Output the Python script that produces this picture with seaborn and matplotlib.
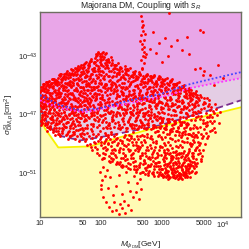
import numpy as np
import pandas as pd
import seaborn as sns
import matplotlib
matplotlib.use('Agg')
from matplotlib import pyplot as plt
from matplotlib.ticker import FixedLocator, NullFormatter

# limit curves: log10(M / GeV) and log10(sigma / cm^2)
blue_logm = [1.0, 1.33, 1.66, 1.98, 2.48, 2.97, 3.46, 3.87, 4.30]
blue_logs = [-45.68, -46.37, -46.71, -46.58, -46.03, -45.62, -44.93, -44.52, -44.11]

magenta_logm = [1.0, 1.33, 1.74, 2.15, 2.64, 3.13, 3.46, 3.87, 4.30]
magenta_logs = [-46.03, -46.58, -46.85, -46.51, -46.10, -45.68, -45.21, -44.86, -44.52]

dashed_logm = [1.0, 1.16, 1.36, 1.66, 1.98, 2.48, 2.97, 3.46, 3.95, 4.30]
dashed_logs = [-46.58, -47.88, -48.49, -48.77, -48.56, -48.15, -47.74, -47.12, -46.51, -46.03]

floor_logm = [1.0, 1.08, 1.16, 1.30, 1.82, 2.31, 2.92, 3.57, 4.30]
floor_logs = [-47.05, -47.95, -48.42, -49.25, -49.18, -48.56, -47.88, -47.26, -46.51]

# scan points (log10 M, log10 sigma)
left_cloud = [
    (1.01,-45.1),(1.02,-46.4),(1.04,-45.7),(1.03,-47.3),(1.06,-44.9),(1.05,-46.0),(1.08,-46.8),(1.07,-45.4),(1.09,-47.6),
    (1.02,-45.9),(1.04,-47.0),(1.06,-46.5),(1.01,-47.7),(1.08,-45.2),(1.03,-46.2),(1.09,-46.1),(1.05,-44.9),(1.07,-47.4),
    (1.10,-45.8),(1.12,-44.8),(1.11,-47.1),(1.14,-46.3),(1.13,-45.3),(1.16,-47.8),(1.15,-44.7),(1.18,-46.0),(1.17,-46.9),
    (1.19,-45.5),(1.12,-48.1),(1.14,-45.0),(1.16,-46.6),(1.13,-47.5),(1.18,-44.9),(1.11,-46.1),(1.19,-47.3),(1.15,-45.9),
    (1.17,-48.0),(1.10,-44.8),
    (1.21,-46.9),(1.20,-44.6),(1.23,-45.4),(1.22,-48.2),(1.25,-46.1),(1.24,-44.9),(1.27,-47.4),(1.26,-45.7),(1.29,-44.5),
    (1.28,-46.5),(1.21,-45.2),(1.23,-47.9),(1.25,-44.7),(1.27,-45.9),(1.29,-47.0),(1.22,-46.4),(1.24,-48.4),(1.26,-47.6),
    (1.28,-45.0),(1.20,-47.2),
    (1.30,-45.6),(1.32,-44.3),(1.31,-47.6),(1.34,-46.2),(1.33,-48.5),(1.36,-45.0),(1.35,-46.9),(1.38,-44.5),(1.37,-48.0),
    (1.39,-45.8),(1.32,-46.7),(1.34,-44.8),(1.36,-47.3),(1.31,-45.2),(1.38,-46.4),(1.33,-44.2),(1.39,-47.8),(1.35,-45.5),
    (1.37,-46.0),(1.30,-48.3),
    (1.41,-44.6),(1.40,-46.8),(1.43,-45.1),(1.42,-48.4),(1.45,-44.0),(1.44,-47.5),(1.47,-45.9),(1.46,-44.3),(1.49,-46.5),
    (1.48,-48.1),(1.41,-45.6),(1.43,-47.1),(1.45,-46.2),(1.47,-44.8),(1.49,-47.8),(1.42,-44.2),(1.44,-45.4),(1.46,-48.7),
    (1.48,-45.0),(1.40,-47.3),
    (1.50,-44.9),(1.52,-46.6),(1.51,-43.9),(1.54,-48.2),(1.53,-45.5),(1.56,-47.0),(1.55,-44.3),(1.58,-46.0),(1.57,-48.7),
    (1.59,-45.2),(1.52,-47.6),(1.54,-44.6),(1.56,-45.8),(1.51,-46.3),(1.58,-43.8),(1.53,-48.4),(1.59,-47.3),(1.55,-46.9),
    (1.57,-44.1),(1.50,-47.9),(1.54,-45.0),(1.58,-47.8),
    (1.61,-45.3),(1.60,-43.8),(1.63,-47.2),(1.62,-44.5),(1.65,-46.0),(1.64,-48.8),(1.67,-44.1),(1.66,-45.7),(1.69,-47.9),
    (1.68,-43.6),(1.61,-46.6),(1.63,-45.0),(1.65,-48.3),(1.67,-46.9),(1.69,-44.8),(1.62,-47.7),(1.64,-43.9),(1.66,-46.3),
    (1.68,-45.4),(1.60,-48.5),(1.65,-44.4),(1.69,-47.0),
    (1.70,-44.0),(1.72,-46.1),(1.71,-48.6),(1.74,-43.5),(1.73,-45.3),(1.76,-47.4),(1.75,-44.7),(1.78,-49.1),(1.77,-46.5),
    (1.79,-43.8),(1.72,-45.8),(1.74,-47.9),(1.76,-44.3),(1.71,-46.9),(1.78,-45.0),(1.73,-48.3),(1.79,-46.2),(1.75,-43.4),
    (1.77,-47.7),(1.70,-45.5),(1.74,-48.8),(1.76,-45.9),(1.78,-44.4),(1.72,-47.1),
    (1.81,-43.6),(1.80,-45.9),(1.83,-48.0),(1.82,-44.4),(1.85,-46.7),(1.84,-43.2),(1.87,-45.1),(1.86,-49.4),(1.89,-47.3),
    (1.88,-44.0),(1.81,-46.3),(1.83,-44.8),(1.85,-48.6),(1.87,-47.8),(1.89,-45.6),(1.82,-49.0),(1.84,-46.0),(1.86,-43.9),
    (1.88,-47.0),(1.80,-44.6),(1.85,-45.3),(1.87,-48.3),(1.89,-43.5),(1.83,-46.9),
    (1.90,-44.7),(1.92,-42.9),(1.91,-47.4),(1.94,-45.6),(1.93,-43.3),(1.96,-48.8),(1.95,-46.3),(1.98,-43.0),(1.97,-44.2),
    (1.99,-47.0),(1.92,-45.1),(1.94,-49.6),(1.96,-43.7),(1.91,-46.0),(1.98,-48.1),(1.93,-44.5),(1.99,-45.9),(1.95,-42.8),
    (1.97,-47.7),(1.90,-49.2),(1.94,-46.8),(1.96,-45.3),(1.98,-44.0),(1.92,-48.5),(1.95,-43.9),(1.97,-49.8),(1.93,-46.6),
    (1.99,-43.4),
]

left_fill = [
    (1.00,-45.45),(1.05,-47.05),(1.02,-46.15),(1.07,-44.95),(1.04,-47.55),(1.09,-45.65),(1.01,-46.75),(1.06,-45.25),
    (1.03,-46.55),(1.08,-47.25),(1.00,-46.35),(1.05,-45.75),(1.02,-47.45),(1.07,-46.25),(1.04,-45.35),(1.09,-46.95),
    (1.10,-46.45),(1.15,-45.15),(1.12,-47.65),(1.17,-45.55),(1.14,-46.75),(1.19,-44.85),(1.11,-45.45),(1.16,-47.25),
    (1.13,-46.05),(1.18,-47.55),(1.10,-45.05),(1.15,-46.25),(1.12,-44.95),(1.17,-46.65),(1.14,-47.95),(1.19,-46.15),
    (1.11,-47.85),(1.16,-45.65),
    (1.20,-45.85),(1.25,-47.75),(1.22,-45.05),(1.27,-46.25),(1.24,-47.05),(1.29,-45.35),(1.21,-48.05),(1.26,-44.65),
    (1.23,-46.65),(1.28,-47.65),(1.20,-46.35),(1.25,-45.45),(1.22,-47.35),(1.27,-44.85),(1.24,-46.05),(1.29,-48.15),
    (1.21,-44.55),(1.26,-46.85),
    (1.30,-44.75),(1.35,-46.15),(1.32,-47.95),(1.37,-45.35),(1.34,-47.45),(1.39,-44.35),(1.31,-46.45),(1.36,-48.25),
    (1.33,-45.75),(1.38,-47.15),(1.30,-46.95),(1.35,-44.55),(1.32,-45.45),(1.37,-46.65),(1.34,-44.25),(1.39,-46.85),
    (1.31,-48.35),(1.36,-45.95),
    (1.40,-45.15),(1.45,-47.25),(1.42,-46.45),(1.47,-44.15),(1.44,-48.35),(1.49,-45.55),(1.41,-47.85),(1.46,-46.05),
    (1.43,-44.45),(1.48,-46.95),(1.40,-44.25),(1.45,-45.75),(1.42,-47.55),(1.47,-47.05),(1.44,-44.85),(1.49,-48.45),
    (1.41,-46.25),(1.46,-45.35),
    (1.50,-44.45),(1.55,-45.65),(1.52,-47.25),(1.57,-46.45),(1.54,-43.95),(1.59,-48.05),(1.51,-45.15),(1.56,-44.25),
    (1.53,-46.75),(1.58,-45.35),(1.50,-48.45),(1.55,-47.45),(1.52,-44.15),(1.57,-45.85),(1.54,-46.55),(1.59,-44.55),
    (1.51,-47.75),(1.56,-48.35),(1.53,-44.75),(1.58,-46.85),
    (1.60,-44.25),(1.65,-45.45),(1.62,-46.95),(1.67,-48.45),(1.64,-44.65),(1.69,-46.15),(1.61,-47.45),(1.66,-43.75),
    (1.63,-45.85),(1.68,-47.25),(1.60,-46.05),(1.65,-47.75),(1.62,-43.95),(1.67,-45.15),(1.64,-46.45),(1.69,-48.25),
    (1.61,-44.85),(1.66,-46.75),(1.63,-48.05),(1.68,-44.55),
    (1.70,-43.65),(1.75,-45.05),(1.72,-46.65),(1.77,-48.25),(1.74,-44.45),(1.79,-47.15),(1.71,-45.15),(1.76,-43.95),
    (1.73,-47.45),(1.78,-45.65),(1.70,-46.85),(1.75,-48.65),(1.72,-44.15),(1.77,-45.35),(1.74,-46.35),(1.79,-44.85),
    (1.71,-48.05),(1.76,-47.05),(1.73,-43.75),(1.78,-46.05),
    (1.80,-43.45),(1.85,-44.25),(1.82,-45.55),(1.87,-46.35),(1.84,-47.65),(1.89,-48.85),(1.81,-44.95),(1.86,-45.75),
    (1.83,-43.35),(1.88,-46.85),(1.80,-47.25),(1.85,-48.15),(1.82,-46.45),(1.87,-44.55),(1.84,-45.15),(1.89,-43.85),
    (1.81,-48.45),(1.86,-47.05),(1.83,-49.25),(1.88,-45.25),
    (1.90,-43.15),(1.95,-44.45),(1.92,-45.85),(1.97,-46.55),(1.94,-47.85),(1.99,-48.65),(1.91,-44.05),(1.96,-45.05),
    (1.93,-47.15),(1.98,-46.15),(1.90,-45.55),(1.95,-48.35),(1.92,-43.65),(1.97,-44.85),(1.94,-49.35),(1.99,-44.65),
    (1.91,-48.95),(1.96,-47.45),(1.93,-42.95),(1.98,-45.35),
]

left_dense = [
    (1.015,-45.32),(1.045,-46.58),(1.075,-45.88),(1.025,-47.18),(1.055,-45.02),(1.085,-46.28),(1.035,-47.58),(1.065,-46.82),
    (1.005,-46.02),(1.095,-45.48),(1.015,-47.42),(1.045,-45.18),(1.075,-47.02),(1.025,-45.72),(1.055,-46.42),(1.085,-47.72),
    (1.105,-45.28),(1.135,-46.88),(1.165,-45.02),(1.195,-47.12),(1.125,-44.78),(1.155,-46.42),(1.185,-45.72),(1.115,-47.62),
    (1.145,-45.52),(1.175,-47.32),(1.105,-46.62),(1.135,-44.98),(1.165,-47.88),(1.195,-46.22),(1.125,-46.02),(1.155,-47.82),
    (1.185,-44.82),(1.115,-45.92),
    (1.205,-45.12),(1.235,-46.72),(1.265,-44.82),(1.295,-46.92),(1.225,-44.58),(1.255,-46.32),(1.285,-45.52),(1.215,-47.52),
    (1.245,-45.32),(1.275,-47.22),(1.205,-46.52),(1.235,-44.78),(1.265,-47.92),(1.295,-45.82),(1.225,-45.92),(1.255,-48.12),
    (1.285,-44.68),(1.215,-46.12),
    (1.305,-44.92),(1.335,-46.52),(1.365,-44.62),(1.395,-46.22),(1.325,-44.38),(1.355,-46.12),(1.385,-45.22),(1.315,-47.42),
    (1.345,-45.02),(1.375,-47.62),(1.305,-46.22),(1.335,-47.12),(1.365,-48.12),(1.395,-45.02),(1.325,-45.62),(1.355,-47.92),
    (1.385,-44.42),(1.315,-45.82),
    (1.405,-44.82),(1.435,-46.22),(1.465,-44.52),(1.495,-45.92),(1.425,-44.18),(1.455,-45.62),(1.485,-47.32),(1.415,-47.02),
    (1.445,-44.92),(1.475,-46.62),(1.405,-45.92),(1.435,-47.82),(1.465,-48.22),(1.495,-44.72),(1.425,-46.62),(1.455,-47.52),
    (1.485,-44.32),(1.415,-45.32),
    (1.505,-44.22),(1.535,-45.92),(1.565,-44.62),(1.595,-46.02),(1.525,-43.98),(1.555,-45.32),(1.585,-47.02),(1.515,-46.92),
    (1.545,-44.82),(1.575,-46.72),(1.505,-45.62),(1.535,-47.92),(1.565,-48.22),(1.595,-44.32),(1.525,-46.42),(1.555,-47.62),
    (1.585,-43.92),(1.515,-45.02),
    (1.605,-44.02),(1.635,-45.62),(1.665,-44.32),(1.695,-45.72),(1.625,-43.72),(1.655,-45.12),(1.685,-46.82),(1.615,-46.52),
    (1.645,-44.62),(1.675,-46.42),(1.605,-45.42),(1.635,-47.52),(1.665,-48.02),(1.695,-44.22),(1.625,-46.12),(1.655,-47.22),
    (1.685,-43.82),(1.615,-44.92),
    (1.705,-43.82),(1.735,-45.52),(1.765,-44.12),(1.795,-45.32),(1.725,-43.52),(1.755,-44.92),(1.785,-46.62),(1.715,-46.32),
    (1.745,-44.42),(1.775,-46.02),(1.705,-45.22),(1.735,-47.32),(1.765,-47.92),(1.795,-44.02),(1.725,-46.02),(1.755,-47.02),
    (1.785,-43.62),(1.715,-44.72),
    (1.805,-43.72),(1.835,-45.32),(1.865,-44.02),(1.895,-45.12),(1.825,-43.32),(1.855,-44.72),(1.885,-46.52),(1.815,-46.12),
    (1.845,-44.22),(1.875,-45.82),(1.805,-45.02),(1.835,-47.12),(1.865,-47.62),(1.895,-43.82),(1.825,-45.92),(1.855,-46.92),
    (1.885,-43.42),(1.815,-44.52),
    (1.905,-43.42),(1.935,-45.12),(1.965,-43.82),(1.995,-44.92),(1.925,-43.02),(1.955,-44.42),(1.985,-46.32),(1.915,-45.92),
    (1.945,-44.02),(1.975,-45.62),(1.905,-44.82),(1.935,-46.92),(1.965,-47.32),(1.995,-43.62),(1.925,-45.72),(1.955,-46.72),
    (1.985,-43.22),(1.915,-44.32),
]

middle_cloud = [
    (2.01,-43.1),(2.00,-45.4),(2.03,-47.9),(2.02,-42.8),(2.05,-44.6),(2.04,-49.3),(2.07,-46.2),(2.06,-43.5),(2.09,-48.4),
    (2.08,-45.0),(2.01,-47.1),(2.03,-44.1),(2.05,-50.0),(2.07,-42.9),(2.09,-46.7),(2.02,-45.8),(2.04,-43.7),(2.06,-48.8),
    (2.08,-47.5),(2.00,-44.3),(2.05,-46.0),(2.07,-49.7),(2.03,-42.7),(2.09,-44.9),(2.01,-48.9),(2.06,-45.2),(2.08,-43.3),
    (2.04,-47.0),
    (2.10,-43.4),(2.12,-46.5),(2.11,-49.0),(2.14,-44.4),(2.13,-47.7),(2.16,-43.1),(2.15,-45.6),(2.18,-50.2),(2.17,-48.2),
    (2.19,-44.8),(2.12,-43.8),(2.14,-46.9),(2.16,-49.6),(2.11,-45.2),(2.18,-47.3),(2.13,-44.0),(2.19,-46.1),(2.15,-48.7),
    (2.17,-43.6),(2.10,-47.9),(2.14,-45.9),(2.16,-50.0),(2.18,-45.0),(2.12,-48.4),(2.19,-43.3),(2.11,-46.8),
    (2.21,-44.1),(2.20,-47.0),(2.23,-49.4),(2.22,-43.6),(2.25,-45.9),(2.24,-48.3),(2.27,-44.7),(2.26,-50.3),(2.29,-46.4),
    (2.28,-43.5),(2.21,-45.4),(2.23,-47.6),(2.25,-49.9),(2.27,-46.8),(2.29,-44.2),(2.22,-48.8),(2.24,-45.1),(2.26,-43.9),
    (2.28,-47.9),(2.20,-49.6),(2.25,-44.4),(2.27,-48.6),(2.23,-46.2),(2.29,-50.4),(2.21,-43.8),(2.26,-45.6),
    (2.30,-45.0),(2.32,-43.8),(2.31,-48.0),(2.34,-46.6),(2.33,-50.5),(2.36,-44.3),(2.35,-47.3),(2.38,-49.1),(2.37,-45.7),
    (2.39,-43.7),(2.32,-46.1),(2.34,-48.8),(2.36,-50.0),(2.31,-44.6),(2.38,-47.0),(2.33,-45.4),(2.39,-48.4),(2.35,-44.0),
    (2.37,-49.6),(2.30,-47.7),(2.34,-45.2),(2.36,-46.9),(2.38,-44.5),(2.32,-49.3),(2.39,-46.3),(2.35,-50.6),
    (2.41,-46.0),(2.40,-43.9),(2.43,-48.7),(2.42,-45.1),(2.45,-50.3),(2.44,-44.3),(2.47,-47.2),(2.46,-49.5),(2.49,-45.7),
    (2.48,-43.8),(2.41,-48.1),(2.43,-46.4),(2.45,-44.7),(2.47,-50.7),(2.49,-47.8),(2.42,-44.0),(2.44,-49.0),(2.46,-45.4),
    (2.48,-46.8),(2.40,-50.1),(2.45,-47.5),(2.47,-44.9),(2.43,-43.9),(2.49,-49.8),(2.41,-45.9),(2.46,-48.4),
    (2.50,-44.4),(2.52,-47.0),(2.51,-49.7),(2.54,-45.3),(2.53,-48.2),(2.56,-44.0),(2.55,-46.5),(2.58,-50.8),(2.57,-48.9),
    (2.59,-45.0),(2.52,-44.7),(2.54,-47.7),(2.56,-50.2),(2.51,-46.0),(2.58,-47.4),(2.53,-45.6),(2.59,-49.3),(2.55,-44.2),
    (2.57,-46.9),(2.50,-48.6),(2.54,-50.5),(2.56,-45.8),(2.58,-44.5),(2.52,-49.1),(2.59,-46.3),(2.53,-50.0),
    (2.61,-45.2),(2.60,-48.0),(2.63,-44.1),(2.62,-50.6),(2.65,-46.7),(2.64,-49.2),(2.67,-44.6),(2.66,-47.5),(2.69,-50.9),
    (2.68,-45.9),(2.61,-48.7),(2.63,-46.2),(2.65,-44.3),(2.67,-49.8),(2.69,-47.1),(2.62,-45.5),(2.64,-50.3),(2.66,-44.9),
    (2.68,-48.4),(2.60,-46.4),(2.65,-50.0),(2.67,-45.7),(2.63,-47.8),(2.69,-44.4),(2.61,-49.5),(2.66,-46.0),(2.64,-51.0),
    (2.68,-49.1),
    (2.70,-44.5),(2.72,-47.3),(2.71,-50.1),(2.74,-45.6),(2.73,-48.9),(2.76,-44.2),(2.75,-46.8),(2.78,-51.0),(2.77,-49.4),
    (2.79,-45.1),(2.72,-44.8),(2.74,-48.0),(2.76,-50.6),(2.71,-46.2),(2.78,-47.6),(2.73,-45.9),(2.79,-49.9),(2.75,-44.3),
    (2.77,-47.0),(2.70,-48.5),(2.74,-50.8),(2.76,-46.0),(2.78,-44.7),(2.72,-49.6),(2.79,-46.5),(2.73,-50.3),(2.75,-48.3),
    (2.77,-51.1),
    (2.81,-46.1),(2.80,-44.4),(2.83,-49.3),(2.82,-45.4),(2.85,-50.9),(2.84,-44.8),(2.87,-47.7),(2.86,-50.2),(2.89,-45.9),
    (2.88,-44.3),(2.81,-48.6),(2.83,-46.8),(2.85,-45.1),(2.87,-51.2),(2.89,-48.2),(2.82,-44.5),(2.84,-49.7),(2.86,-45.7),
    (2.88,-47.2),(2.80,-50.5),(2.85,-47.9),(2.87,-45.3),(2.83,-44.4),(2.89,-50.0),(2.81,-46.4),(2.86,-48.9),(2.84,-51.0),
    (2.88,-49.4),
    (2.90,-44.8),(2.92,-47.4),(2.91,-50.3),(2.94,-45.7),(2.93,-48.5),(2.96,-44.4),(2.95,-46.9),(2.98,-51.1),(2.97,-49.2),
    (2.99,-45.3),(2.92,-44.9),(2.94,-48.1),(2.96,-50.7),(2.91,-46.3),(2.98,-47.8),(2.93,-45.9),(2.99,-49.8),(2.95,-44.6),
    (2.97,-47.2),(2.90,-48.8),(2.94,-51.2),(2.96,-46.1),(2.98,-45.0),(2.92,-49.6),(2.99,-46.6),(2.93,-50.5),(2.95,-48.4),
    (2.97,-50.9),
]

middle_fill = [
    (2.00,-43.25),(2.05,-44.35),(2.02,-45.65),(2.07,-46.45),(2.04,-47.35),(2.09,-43.65),(2.01,-44.85),(2.06,-46.95),
    (2.03,-45.15),(2.08,-47.85),(2.00,-46.25),(2.05,-43.05),(2.02,-44.05),(2.07,-45.45),
    (2.01,-49.05),(2.06,-48.25),(2.03,-49.65),(2.08,-48.65),(2.04,-49.95),(2.09,-49.45),(2.00,-48.55),(2.05,-48.95),
    (2.07,-49.25),(2.02,-50.05),
    (2.10,-43.75),(2.15,-44.65),(2.12,-45.95),(2.17,-46.75),(2.14,-47.55),(2.19,-43.45),(2.11,-44.35),(2.16,-45.35),
    (2.13,-46.35),(2.18,-47.15),(2.10,-45.65),(2.15,-47.95),(2.12,-43.25),(2.17,-44.95),
    (2.11,-48.55),(2.16,-49.15),(2.13,-49.85),(2.18,-48.85),(2.14,-50.15),(2.19,-49.45),(2.10,-49.35),(2.15,-50.25),
    (2.17,-48.35),(2.12,-48.95),
    (2.20,-44.35),(2.25,-43.65),(2.22,-45.25),(2.27,-46.15),(2.24,-46.95),(2.29,-47.75),(2.21,-44.85),(2.26,-45.75),
    (2.23,-43.85),(2.28,-46.55),(2.20,-47.35),(2.25,-45.05),(2.22,-46.35),(2.27,-44.15),
    (2.21,-48.45),(2.26,-49.05),(2.23,-49.75),(2.28,-48.95),(2.24,-50.35),(2.29,-49.45),(2.20,-50.05),(2.25,-48.65),
    (2.27,-50.25),(2.22,-49.35),
    (2.30,-43.95),(2.35,-44.85),(2.32,-46.25),(2.37,-47.45),(2.34,-45.45),(2.39,-44.15),(2.31,-47.05),(2.36,-45.95),
    (2.33,-44.45),(2.38,-46.65),(2.30,-45.75),(2.35,-47.85),(2.32,-43.75),(2.37,-45.15),
    (2.31,-48.75),(2.36,-49.35),(2.33,-49.95),(2.38,-48.55),(2.34,-50.45),(2.39,-49.85),(2.30,-49.55),(2.35,-48.95),
    (2.37,-50.55),(2.32,-50.25),
    (2.40,-44.55),(2.45,-43.95),(2.42,-45.75),(2.47,-46.55),(2.44,-47.45),(2.49,-44.35),(2.41,-46.85),(2.46,-45.05),
    (2.43,-47.95),(2.48,-45.95),(2.40,-45.25),(2.45,-46.25),(2.42,-44.25),(2.47,-47.65),
    (2.41,-49.15),(2.46,-48.75),(2.43,-50.05),(2.48,-49.45),(2.44,-50.65),(2.49,-48.45),(2.40,-49.75),(2.45,-49.35),
    (2.47,-50.35),(2.42,-50.55),
    (2.50,-44.75),(2.55,-45.55),(2.52,-46.35),(2.57,-47.25),(2.54,-44.15),(2.59,-46.65),(2.51,-47.65),(2.56,-45.05),
    (2.53,-45.85),(2.58,-44.35),(2.50,-46.95),(2.55,-47.95),(2.52,-44.45),(2.57,-46.05),
    (2.51,-48.85),(2.56,-49.45),(2.53,-50.25),(2.58,-49.05),(2.54,-50.75),(2.59,-48.45),(2.50,-49.95),(2.55,-48.65),
    (2.57,-50.55),(2.52,-49.65),
    (2.60,-44.55),(2.65,-45.35),(2.62,-46.85),(2.67,-46.25),(2.64,-47.35),(2.69,-44.75),(2.61,-45.85),(2.66,-47.85),
    (2.63,-44.25),(2.68,-46.65),(2.60,-47.15),(2.65,-44.95),(2.62,-45.65),(2.67,-47.55),
    (2.61,-49.15),(2.66,-48.85),(2.63,-50.45),(2.68,-49.65),(2.64,-49.85),(2.69,-50.35),(2.60,-50.75),(2.65,-48.45),
    (2.67,-50.95),(2.62,-49.35),
    (2.70,-44.85),(2.75,-45.45),(2.72,-46.55),(2.77,-47.35),(2.74,-44.35),(2.79,-46.05),(2.71,-47.75),(2.76,-45.25),
    (2.73,-46.95),(2.78,-44.55),(2.70,-45.95),(2.75,-47.95),(2.72,-45.05),(2.77,-46.75),
    (2.71,-48.75),(2.76,-49.25),(2.73,-50.65),(2.78,-49.95),(2.74,-49.45),(2.79,-50.85),(2.70,-50.15),(2.75,-48.55),
    (2.77,-50.45),(2.72,-51.05),
    (2.80,-45.15),(2.85,-44.45),(2.82,-46.65),(2.87,-46.15),(2.84,-47.45),(2.89,-44.85),(2.81,-45.65),(2.86,-47.85),
    (2.83,-45.95),(2.88,-46.95),(2.80,-47.25),(2.85,-45.45),(2.82,-44.65),(2.87,-44.35),
    (2.81,-49.05),(2.86,-49.55),(2.83,-50.35),(2.88,-50.75),(2.84,-48.65),(2.89,-49.25),(2.80,-50.05),(2.85,-51.05),
    (2.87,-50.55),(2.82,-48.45),
    (2.90,-45.05),(2.95,-45.65),(2.92,-46.35),(2.97,-47.55),(2.94,-44.55),(2.99,-46.15),(2.91,-47.85),(2.96,-45.25),
    (2.93,-46.85),(2.98,-44.75),(2.90,-46.55),(2.95,-47.25),(2.92,-45.45),(2.97,-44.45),
    (2.91,-48.95),(2.96,-49.45),(2.93,-50.25),(2.98,-50.75),(2.94,-49.75),(2.99,-48.55),(2.90,-50.55),(2.95,-51.05),
    (2.97,-49.15),(2.92,-50.95),
]

middle_dense = [
    (2.005,-43.52),(2.035,-44.52),(2.065,-43.82),(2.095,-45.32),(2.025,-45.92),(2.055,-46.72),(2.085,-44.22),(2.015,-47.52),
    (2.045,-45.02),(2.075,-47.22),(2.005,-46.52),(2.035,-43.22),(2.065,-44.92),(2.095,-46.12),
    (2.105,-43.62),(2.135,-44.72),(2.165,-44.02),(2.195,-45.52),(2.125,-46.12),(2.155,-46.92),(2.185,-44.42),(2.115,-47.72),
    (2.145,-45.22),(2.175,-47.42),(2.105,-46.62),(2.135,-43.42),(2.165,-45.12),(2.195,-46.32),
    (2.205,-43.92),(2.235,-44.92),(2.265,-44.22),(2.295,-45.72),(2.225,-46.32),(2.255,-47.12),(2.285,-44.62),(2.215,-47.82),
    (2.245,-45.42),(2.275,-47.52),(2.205,-46.82),(2.235,-43.62),(2.265,-45.32),(2.295,-46.52),
    (2.305,-44.12),(2.335,-45.12),(2.365,-44.42),(2.395,-45.92),(2.325,-46.52),(2.355,-47.22),(2.385,-44.82),(2.315,-47.92),
    (2.345,-45.62),(2.375,-47.62),(2.305,-46.92),(2.335,-43.82),(2.365,-45.52),(2.395,-46.72),
    (2.405,-44.22),(2.435,-45.22),(2.465,-44.52),(2.495,-46.02),(2.425,-46.62),(2.455,-47.32),(2.485,-44.92),(2.415,-47.92),
    (2.445,-45.72),(2.475,-47.72),(2.405,-46.92),(2.435,-43.92),(2.465,-45.62),(2.495,-46.82),
    (2.505,-44.32),(2.535,-45.32),(2.565,-44.62),(2.595,-46.12),(2.525,-46.72),(2.555,-47.42),(2.585,-45.02),(2.515,-47.92),
    (2.545,-45.82),(2.575,-47.72),(2.505,-46.92),(2.535,-44.12),(2.565,-45.72),(2.595,-46.82),
    (2.605,-44.42),(2.635,-45.42),(2.665,-44.72),(2.695,-46.22),(2.625,-46.82),(2.655,-47.52),(2.685,-45.12),(2.615,-47.92),
    (2.645,-45.92),(2.675,-47.72),(2.605,-47.02),(2.635,-44.22),(2.665,-45.82),(2.695,-46.92),
    (2.705,-44.52),(2.735,-45.52),(2.765,-44.82),(2.795,-46.32),(2.725,-46.92),(2.755,-47.62),(2.785,-45.22),(2.715,-47.92),
    (2.745,-46.02),(2.775,-47.72),(2.705,-47.12),(2.735,-44.32),(2.765,-45.92),(2.795,-47.02),
    (2.805,-44.62),(2.835,-45.62),(2.865,-44.92),(2.895,-46.42),(2.825,-47.02),(2.855,-47.72),(2.885,-45.32),(2.815,-48.02),
    (2.845,-46.12),(2.875,-47.82),(2.805,-47.22),(2.835,-44.42),(2.865,-46.02),(2.895,-47.12),
    (2.905,-44.72),(2.935,-45.72),(2.965,-45.02),(2.995,-46.52),(2.925,-47.12),(2.955,-47.82),(2.985,-45.42),(2.915,-48.12),
    (2.945,-46.22),(2.975,-47.92),(2.905,-47.32),(2.935,-44.52),(2.965,-46.12),(2.995,-47.22),
]

right_cloud = [
    (3.01,-46.2),(3.00,-44.6),(3.03,-49.4),(3.02,-45.5),(3.05,-51.0),(3.04,-44.9),(3.07,-47.8),(3.06,-50.4),(3.09,-46.0),
    (3.08,-44.5),(3.01,-48.7),(3.03,-46.9),(3.05,-45.2),(3.07,-51.3),(3.09,-48.3),(3.02,-44.7),(3.04,-49.9),(3.06,-45.8),
    (3.08,-47.3),(3.00,-50.7),(3.05,-48.0),(3.07,-45.4),(3.03,-50.2),(3.09,-50.9),(3.01,-47.5),(3.06,-49.1),(3.04,-51.2),
    (3.08,-49.6),
    (3.10,-44.9),(3.12,-47.5),(3.11,-50.4),(3.14,-45.8),(3.13,-48.6),(3.16,-44.6),(3.15,-47.0),(3.18,-51.2),(3.17,-49.3),
    (3.19,-45.4),(3.12,-45.0),(3.14,-48.2),(3.16,-50.8),(3.11,-46.4),(3.18,-47.9),(3.13,-46.0),(3.19,-49.9),(3.15,-44.7),
    (3.17,-47.3),(3.10,-48.9),(3.14,-51.3),(3.16,-46.2),(3.18,-45.1),(3.12,-49.7),(3.19,-46.7),(3.13,-50.6),(3.15,-50.0),
    (3.17,-51.0),(3.11,-51.4),(3.19,-50.3),
    (3.21,-46.3),(3.20,-44.9),(3.23,-49.5),(3.22,-45.6),(3.25,-51.1),(3.24,-45.0),(3.27,-47.9),(3.26,-50.5),(3.29,-46.1),
    (3.28,-44.8),(3.21,-48.8),(3.23,-47.0),(3.25,-45.3),(3.27,-51.4),(3.29,-48.4),(3.22,-44.9),(3.24,-50.0),(3.26,-45.9),
    (3.28,-47.4),(3.20,-50.8),(3.25,-48.1),(3.27,-45.5),(3.23,-50.3),(3.29,-51.0),(3.21,-47.6),(3.26,-49.2),(3.24,-51.3),
    (3.28,-49.7),(3.22,-50.9),(3.27,-50.6),
    (3.30,-45.3),(3.32,-47.7),(3.31,-50.6),(3.34,-46.0),(3.33,-48.8),(3.36,-45.0),(3.35,-47.2),(3.38,-51.3),(3.37,-49.5),
    (3.39,-45.6),(3.32,-45.2),(3.34,-48.4),(3.36,-51.0),(3.31,-46.6),(3.38,-48.1),(3.33,-46.2),(3.39,-50.1),(3.35,-45.1),
    (3.37,-47.5),(3.30,-49.1),(3.34,-51.4),(3.36,-46.4),(3.38,-45.4),(3.32,-49.9),(3.39,-46.9),(3.33,-50.8),(3.35,-50.3),
    (3.37,-51.1),
    (3.41,-46.5),(3.40,-45.3),(3.43,-49.6),(3.42,-45.9),(3.45,-51.0),(3.44,-45.2),(3.47,-48.0),(3.46,-50.5),(3.49,-46.3),
    (3.48,-45.5),(3.41,-48.9),(3.43,-47.1),(3.45,-45.7),(3.47,-51.3),(3.49,-48.5),(3.42,-47.6),(3.44,-50.1),(3.46,-46.1),
    (3.48,-47.4),(3.40,-50.8),(3.45,-48.3),(3.47,-45.8),(3.43,-50.4),(3.49,-49.6),(3.41,-51.2),(3.46,-49.0),
    (3.50,-45.7),(3.52,-47.9),(3.51,-50.5),(3.54,-46.2),(3.53,-48.9),(3.56,-45.4),(3.55,-47.4),(3.58,-50.3),(3.57,-49.3),
    (3.59,-45.9),(3.52,-45.5),(3.54,-48.4),(3.56,-50.9),(3.51,-46.8),(3.58,-47.9),(3.53,-46.5),(3.59,-49.7),(3.55,-45.6),
    (3.57,-47.2),(3.50,-49.0),(3.54,-51.0),(3.56,-46.9),
    (3.61,-46.0),(3.60,-48.2),(3.63,-49.6),(3.62,-45.7),(3.65,-47.1),(3.64,-50.2),(3.67,-46.3),(3.66,-48.6),(3.69,-45.9),
    (3.68,-47.6),(3.61,-49.1),(3.63,-46.8),(3.65,-45.8),(3.67,-49.4),(3.69,-48.0),(3.62,-47.3),
    (3.71,-46.2),(3.73,-47.8),(3.72,-46.9),(3.75,-45.9),(3.74,-48.6),(3.77,-47.2),(3.76,-46.4),(3.79,-48.1),(3.78,-46.0),
    (3.71,-49.0),(3.75,-47.5),(3.79,-46.7),
    (3.81,-46.5),(3.83,-47.6),(3.85,-46.9),(3.87,-48.2),(3.82,-47.2),(3.88,-46.3),(3.86,-47.9),
    (3.91,-47.0),(3.94,-47.6),(3.96,-46.8),
]

right_fill = [
    (3.00,-45.05),(3.05,-45.85),(3.02,-46.55),(3.07,-47.65),(3.04,-44.65),(3.09,-46.25),(3.01,-47.35),(3.06,-45.35),
    (3.03,-47.95),(3.08,-44.85),(3.00,-46.85),(3.05,-44.55),
    (3.01,-49.25),(3.06,-49.75),(3.03,-50.45),(3.08,-50.95),(3.04,-50.15),(3.09,-49.35),(3.00,-51.05),(3.05,-50.65),
    (3.07,-49.95),(3.02,-51.25),(3.06,-48.55),(3.09,-50.35),(3.01,-50.75),(3.04,-48.95),(3.08,-51.15),(3.03,-49.55),
    (3.10,-45.25),(3.15,-45.95),(3.12,-46.65),(3.17,-47.75),(3.14,-44.75),(3.19,-46.35),(3.11,-47.45),(3.16,-45.55),
    (3.13,-48.05),(3.18,-44.95),(3.10,-46.95),(3.15,-44.65),
    (3.11,-49.45),(3.16,-49.85),(3.13,-50.55),(3.18,-51.05),(3.14,-50.25),(3.19,-49.55),(3.10,-51.15),(3.15,-50.75),
    (3.17,-50.05),(3.12,-51.35),(3.16,-48.65),(3.19,-50.45),(3.11,-50.85),(3.14,-49.05),(3.18,-51.25),(3.13,-49.65),
    (3.20,-45.35),(3.25,-46.05),(3.22,-46.75),(3.27,-47.85),(3.24,-44.95),(3.29,-46.45),(3.21,-47.55),(3.26,-45.65),
    (3.23,-48.15),(3.28,-45.15),(3.20,-47.05),(3.25,-44.85),
    (3.21,-49.55),(3.26,-49.95),(3.23,-50.65),(3.28,-51.15),(3.24,-50.35),(3.29,-49.65),(3.20,-51.25),(3.25,-50.85),
    (3.27,-50.15),(3.22,-51.35),(3.26,-48.75),(3.29,-50.55),(3.21,-50.95),(3.24,-49.15),(3.28,-51.35),(3.23,-49.75),
    (3.30,-45.55),(3.35,-46.15),(3.32,-46.85),(3.37,-47.95),(3.34,-45.05),(3.39,-46.55),(3.31,-47.65),(3.36,-45.75),
    (3.33,-48.25),(3.38,-45.25),(3.30,-47.15),(3.35,-45.05),
    (3.31,-49.65),(3.36,-50.05),(3.33,-50.75),(3.38,-51.05),(3.34,-50.45),(3.39,-49.75),(3.30,-51.25),(3.35,-50.95),
    (3.37,-50.25),(3.32,-51.35),(3.36,-48.85),(3.39,-50.65),(3.31,-51.05),(3.34,-49.25),(3.38,-50.55),(3.33,-49.85),
    (3.40,-45.75),(3.45,-46.35),(3.42,-46.95),(3.47,-47.95),(3.44,-45.25),(3.49,-46.65),(3.41,-47.75),(3.46,-45.85),
    (3.43,-48.35),(3.48,-45.35),(3.40,-47.25),(3.45,-45.45),
    (3.41,-49.75),(3.46,-50.15),(3.43,-50.85),(3.48,-50.95),(3.44,-50.45),(3.49,-49.85),(3.40,-51.15),(3.45,-50.65),
    (3.47,-50.35),(3.42,-51.25),(3.46,-48.95),(3.49,-50.25),(3.41,-50.55),(3.44,-49.35),(3.48,-49.15),(3.43,-49.95),
    (3.50,-45.95),(3.55,-46.45),(3.52,-47.05),(3.57,-47.85),(3.54,-45.55),(3.59,-46.75),(3.51,-48.25),(3.56,-46.05),
    (3.53,-48.55),(3.58,-45.65),
    (3.51,-49.65),(3.56,-50.05),(3.53,-50.65),(3.58,-49.25),(3.54,-50.35),(3.59,-48.85),(3.50,-50.85),(3.55,-49.45),
    (3.57,-50.55),(3.52,-49.95),
    (3.60,-46.35),(3.65,-46.65),(3.62,-47.85),(3.67,-47.35),(3.64,-48.35),(3.69,-46.15),(3.61,-49.45),(3.66,-49.85),
    (3.63,-48.95),(3.68,-48.45),(3.60,-45.85),(3.65,-50.05),
    (3.70,-46.55),(3.75,-47.15),(3.72,-48.25),(3.77,-46.25),(3.74,-47.75),(3.79,-47.45),(3.71,-47.55),(3.76,-48.45),
    (3.80,-47.05),(3.84,-46.75),(3.82,-48.05),(3.86,-47.45),(3.89,-46.65),
]

right_dense = [
    (3.005,-44.82),(3.035,-45.82),(3.065,-45.12),(3.095,-46.62),(3.025,-47.22),(3.055,-47.92),(3.085,-45.52),(3.015,-48.22),
    (3.045,-46.32),(3.075,-48.02),(3.005,-47.42),(3.035,-44.62),(3.065,-46.22),(3.095,-47.32),
    (3.105,-44.92),(3.135,-45.92),(3.165,-45.22),(3.195,-46.72),(3.125,-47.32),(3.155,-48.02),(3.185,-45.62),(3.115,-48.32),
    (3.145,-46.42),(3.175,-48.12),(3.105,-47.52),(3.135,-44.72),(3.165,-46.32),(3.195,-47.42),
    (3.205,-45.12),(3.235,-46.02),(3.265,-45.32),(3.295,-46.82),(3.225,-47.42),(3.255,-48.12),(3.285,-45.72),(3.215,-48.42),
    (3.245,-46.52),(3.275,-48.22),(3.205,-47.62),(3.235,-44.92),(3.265,-46.42),(3.295,-47.52),
    (3.305,-45.32),(3.335,-46.12),(3.365,-45.42),(3.395,-46.92),(3.325,-47.52),(3.355,-48.22),(3.385,-45.82),(3.315,-48.52),
    (3.345,-46.62),(3.375,-48.32),(3.305,-47.72),(3.335,-45.12),(3.365,-46.52),(3.395,-47.62),
    (3.405,-45.52),(3.435,-46.22),(3.465,-45.62),(3.495,-47.02),(3.425,-47.62),(3.455,-48.32),(3.485,-46.02),(3.415,-48.62),
    (3.445,-46.72),(3.475,-48.42),(3.405,-47.82),(3.435,-45.32),
    (3.505,-45.72),(3.535,-46.32),(3.565,-45.82),(3.595,-47.12),(3.525,-47.72),(3.555,-48.42),(3.585,-46.12),(3.515,-48.72),
    (3.545,-46.82),(3.575,-48.52),
    (2.925,-49.92),(2.975,-50.52),(3.025,-50.02),(3.075,-50.82),(3.125,-50.32),(3.175,-50.92),(3.225,-50.22),(3.275,-51.02),
    (3.325,-50.42),(3.375,-50.92),(3.425,-50.72),(3.475,-50.42),(3.525,-50.22),(2.955,-50.22),(3.005,-51.12),(3.055,-49.62),
    (3.105,-51.22),(3.155,-49.82),(3.205,-51.12),(3.255,-49.72),(3.305,-51.22),(3.355,-49.62),(3.405,-51.02),(3.455,-49.52),
    (3.505,-49.82),(3.545,-49.42),(2.885,-50.32),(2.835,-49.92),(2.785,-50.52),(2.735,-49.82),(3.085,-50.52),(3.185,-50.62),
    (3.285,-50.32),(3.385,-49.92),(3.145,-50.12),(3.245,-51.22),(3.345,-51.12),(3.045,-50.92),
]

lower_lobe = [
    (1.99,-50.9),(2.02,-51.5),(2.00,-52.1),(2.04,-52.6),(2.06,-51.2),(2.03,-50.6),(2.08,-53.0),(2.01,-51.8),
    (2.13,-53.3),(2.18,-53.6),(2.24,-53.5),(2.29,-53.8),(2.35,-53.4),(2.40,-53.7),(2.45,-53.2),(2.21,-53.0),
    (2.32,-53.1),(2.50,-53.5),(2.38,-52.9),
    (2.55,-51.2),(2.60,-51.7),(2.58,-52.3),(2.62,-52.8),(2.64,-51.4),(2.57,-50.9),(2.53,-52.6),(2.66,-52.1),
    (2.15,-51.3),(2.25,-51.9),(2.35,-52.4),(2.44,-51.6),(2.20,-52.5),(2.30,-51.1),(2.42,-50.9),(2.12,-52.0),
    (2.48,-52.2),(2.10,-50.8),
]

streak = [
    (2.66,-40.3),(2.68,-40.6),(2.67,-41.0),(2.69,-41.3),(2.66,-41.6),(2.70,-41.9),(2.68,-42.2),(2.67,-42.5),
    (2.71,-42.7),(2.69,-43.0),(2.66,-43.3),(2.70,-43.5),(2.68,-43.8),(2.72,-41.5),(2.65,-42.0),(2.71,-42.4),
    (2.67,-43.9),(2.73,-43.1),(2.69,-40.9),(2.74,-42.9),
]

scattered = [
    (2.85,-41.4),(2.95,-42.1),(3.05,-41.8),(3.15,-42.3),(3.25,-41.9),(3.33,-42.6),(3.62,-41.2),(2.90,-42.8),
    (3.10,-43.0),(3.45,-42.9),(2.80,-42.5),(3.00,-43.4),(3.12,-40.1),(3.41,-41.7),(3.67,-41.4),
    (1.95,-42.7),(1.98,-42.9),(2.02,-43.0),(2.08,-42.8),(2.12,-43.2),
    (3.62,-43.8),(3.92,-43.6),(3.67,-44.3),(3.55,-43.9),(3.70,-44.0),(4.00,-44.5),(3.85,-45.0),(3.80,-44.3),
]

sns.set_style('white')
plt.rcParams['font.family'] = ['Liberation Sans', 'DejaVu Sans']
plt.rcParams['mathtext.fontset'] = 'custom'
plt.rcParams['mathtext.rm'] = 'Liberation Sans'
plt.rcParams['mathtext.it'] = 'Liberation Sans:italic'

fig = plt.figure(figsize=(2.49, 2.49), dpi=100)
ax = fig.add_axes([40/249, 32/249, 201/249, 205/249])
ax.set_xscale('log')
ax.set_yscale('log')

x_min, x_max = 10, 2e4
y_min, y_max = 1e-54, 1e-40

def to_lin(vals):
    return [10**v for v in vals]

# excluded (plum), projected (lavender) and neutrino floor (yellow) regions
ax.fill_between(to_lin(magenta_logm), to_lin(magenta_logs), y_max, color='#e9a6e8', lw=0, zorder=1)
ax.fill(to_lin(magenta_logm + dashed_logm[::-1]), to_lin(magenta_logs + dashed_logs[::-1]),
        facecolor='#e4cde4', edgecolor='none', zorder=1.2)
ax.fill_between(to_lin(floor_logm), y_min, to_lin(floor_logs), color='#fffbb4', lw=0, zorder=1)

ax.plot(to_lin(dashed_logm), to_lin(dashed_logs), color='#7b2f8e', lw=1.3,
        linestyle=(0, (4, 2)), zorder=2)
ax.plot(to_lin(floor_logm), to_lin(floor_logs), color='#f7f200', lw=1.3, zorder=2)

pts = pd.DataFrame(left_cloud + left_fill + left_dense + middle_cloud + middle_fill + middle_dense
                   + right_cloud + right_fill + right_dense + lower_lobe + streak + scattered,
                   columns=['logm', 'logs'])
pts['mass'] = 10**pts['logm']
pts['sigma'] = 10**pts['logs']
sns.scatterplot(data=pts, x='mass', y='sigma', ax=ax, color='#ff0000', s=4.2, linewidth=0,
                marker='o', zorder=3)

ax.plot(to_lin(magenta_logm), to_lin(magenta_logs), color='#ff33ff', lw=1.3,
        linestyle=(0, (1, 1.2)), zorder=4)
ax.plot(to_lin(blue_logm), to_lin(blue_logs), color='#4444ff', lw=1.3,
        linestyle=(0, (1, 1.2)), zorder=4)

ax.set_xlim(x_min, x_max)
ax.set_ylim(y_min, y_max)

x_ticks = [10, 50, 100, 500, 1000, 5000, 1e4]
x_labels = ['10', '50', '100', '500', '1000', '5000', '$10^4$']
ax.xaxis.set_major_locator(FixedLocator(x_ticks))
ax.set_xticklabels(x_labels)
x_minor = [m * d for d in [10, 100, 1000, 10000] for m in range(2, 10) if m * d <= x_max and m != 5]
ax.xaxis.set_minor_locator(FixedLocator(x_minor))
ax.xaxis.set_minor_formatter(NullFormatter())

y_ticks = [1e-43, 1e-47, 1e-51]
ax.yaxis.set_major_locator(FixedLocator(y_ticks))
ax.set_yticklabels(['$10^{-43}$', '$10^{-47}$', '$10^{-51}$'])
ax.yaxis.set_minor_locator(FixedLocator([10.0**e for e in range(-54, -39) if e not in (-43, -47, -51)]))
ax.yaxis.set_minor_formatter(NullFormatter())

ax.tick_params(which='both', direction='in', top=True, right=True, labelsize=5.5,
               color='#222222', width=0.7, pad=2)
ax.tick_params(which='major', length=3)
ax.tick_params(which='minor', length=2)
for sp in ax.spines.values():
    sp.set_color('#6e6e62')
    sp.set_linewidth(1.0)

ax.set_title('Majorana DM, Coupling with $s_R$', fontsize=6.2, pad=3)
ax.set_xlabel(r'$M_{\psi_{\rm DM}}$[GeV]', fontsize=6, labelpad=6)
ax.set_ylabel(r'$\sigma^{\rm SI}_{{\rm DM},p}$[cm$^2$]', fontsize=6, labelpad=1)

fig.savefig('out.png', dpi=100)
